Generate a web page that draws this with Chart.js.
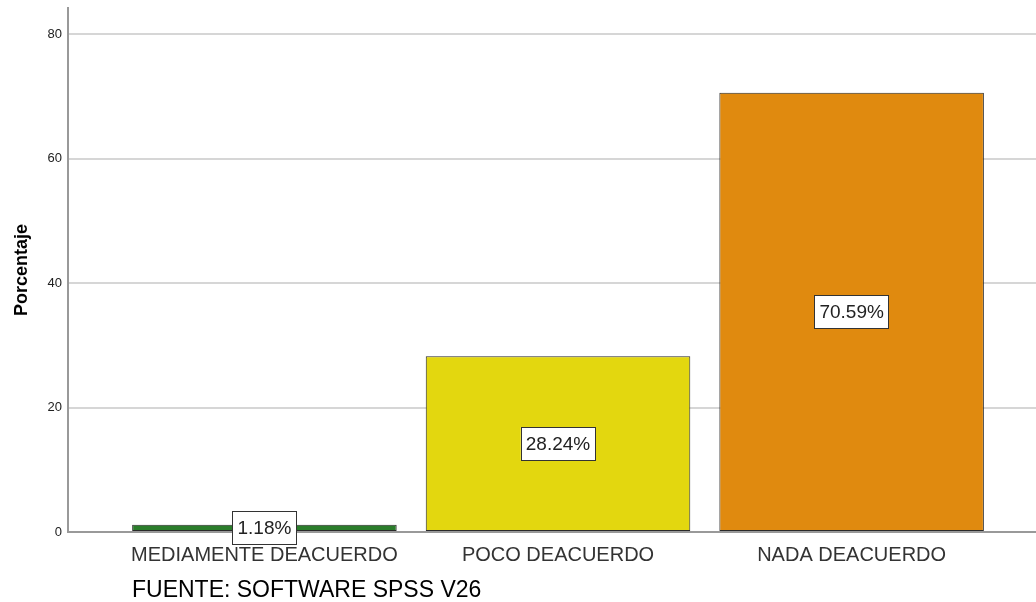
<!DOCTYPE html>
<html>
<head>
<meta charset="utf-8">
<script src="https://cdn.jsdelivr.net/npm/chart.js@4"></script>
<style>
  body { margin: 0; background: #fff; }
  #wrap { position: relative; width: 1036px; height: 602px; }
  #fuente {
    position: absolute; left: 132px; top: 577px;
    font: 23px "Liberation Sans", Arial, sans-serif; line-height: 24px; color: #000;
  }
</style>
</head>
<body>
<div id="wrap">
  <canvas id="barChart" width="1036" height="602"></canvas>
  <div id="fuente">FUENTE: SOFTWARE SPSS V26</div>
</div>
<script>
const categories = ["MEDIAMENTE DEACUERDO", "POCO DEACUERDO", "NADA DEACUERDO"];
const percentages = [1.18, 28.24, 70.59];
const yTicks = [0, 20, 40, 60, 80];
const barColors = ["#2b7d2b", "#e3d70f", "#e08a0f"];

const FONT = '"Liberation Sans", Arial, sans-serif';

// boxed percentage labels in the middle of each bar
const valueLabels = {
  id: "valueLabels",
  afterDatasetsDraw(chart) {
    const ctx = chart.ctx;
    const meta = chart.getDatasetMeta(0);
    ctx.save();
    ctx.font = "19px " + FONT;
    ctx.textAlign = "center";
    ctx.textBaseline = "middle";
    meta.data.forEach((bar, i) => {
      const text = percentages[i].toFixed(2) + "%";
      const cx = bar.x;
      const cy = (bar.y + bar.base) / 2;
      const w = ctx.measureText(text).width + 10;
      const h = 33;
      ctx.fillStyle = "#fff";
      ctx.fillRect(cx - w / 2, cy - h / 2, w, h);
      ctx.strokeStyle = "#333";
      ctx.lineWidth = 1;
      ctx.strokeRect(Math.round(cx - w / 2) + 0.5, Math.round(cy - h / 2) + 0.5, Math.round(w), h);
      ctx.fillStyle = "#222";
      ctx.fillText(text, cx, cy + 1);
    });
    ctx.restore();
  },
};

new Chart(document.getElementById("barChart").getContext("2d"), {
  type: "bar",
  data: {
    datasets: [
      {
        label: "Porcentaje",
        data: categories.map((c, i) => ({ x: i, y: percentages[i] })),
        backgroundColor: barColors,
        borderColor: "#2a2a2a",
        borderWidth: 1,
        borderSkipped: false,
        barPercentage: 0.901,
        categoryPercentage: 1,
      },
    ],
  },
  options: {
    responsive: false,
    animation: false,
    layout: { padding: { top: 8, left: 0, right: 0, bottom: 0 } },
    plugins: {
      legend: { display: false },
      tooltip: { enabled: false },
    },
    scales: {
      x: {
        type: "linear",
        offset: false,
        bounds: "data",
        min: -0.669,
        max: 2.628,
        afterBuildTicks: (axis) => {
          axis.ticks = categories.map((c, i) => ({ value: i }));
        },
        afterFit: (axis) => {
          axis.height = 70;
        },
        ticks: {
          callback: (v) => categories[v],
          font: { family: FONT, size: 20 },
          color: "#333",
          padding: 11,
          maxRotation: 0,
          autoSkip: false,
        },
        grid: { display: false, drawTicks: false, offset: false },
        border: { display: true, color: "#999", width: 2 },
      },
      y: {
        min: 0,
        max: 84.2,
        afterBuildTicks: (axis) => {
          axis.ticks = yTicks.map((v) => ({ value: v }));
        },
        afterFit: (axis) => {
          axis.width = 68;
        },
        ticks: {
          font: { family: FONT, size: 13, lineHeight: 0.3 },
          color: "#222",
          padding: 6,
        },
        grid: {
          color: (c) => (c.tick && c.tick.value === 0 ? "rgba(0,0,0,0)" : "#d6d6d6"),
          lineWidth: 2,
          drawTicks: false,
        },
        border: { display: true, color: "#999", width: 2 },
        title: {
          display: true,
          text: "Porcentaje",
          font: { family: FONT, size: 18, weight: "bold" },
          color: "#000",
          padding: { top: 11, bottom: 0 },
        },
      },
    },
  },
  plugins: [valueLabels],
});
</script>
</body>
</html>
